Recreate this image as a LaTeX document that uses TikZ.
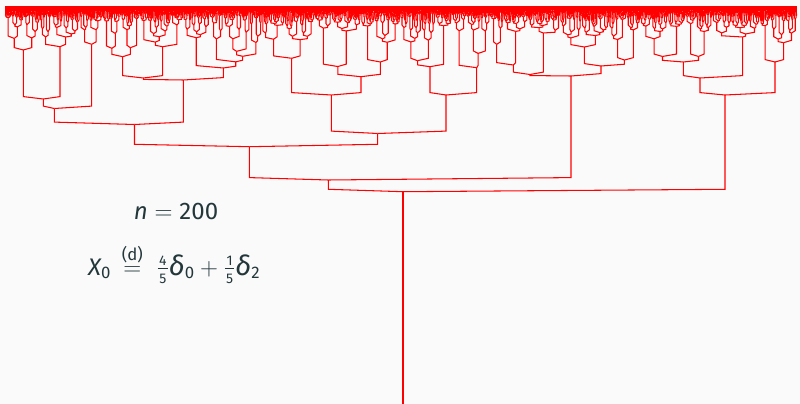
\documentclass[tikz,border=0pt]{standalone}
\usepackage{amsmath}
\usepackage{graphicx}
\usepackage{fontspec}
\setmainfont{Fira Sans}
\definecolor{bg}{HTML}{FAFAFA}
\definecolor{ink}{HTML}{23373B}
\tikzset{tr/.style={draw=red, line width=1.05pt}}
% top line where every leaf ends, and the height/width scaling of subtrees
\newcommand\ytop{6.5}
\newcommand\kk{7.4}
% edge from a parent (#1,#2) to a child (#3,#4): a shallow bar, then a vertical
\newcommand\gedge[4]{%
  \pgfmathsetmacro\gdel{min(2.4,0.3*(#2-#4))}%
  \draw[tr] (#1,#2) -- (#3,#2-\gdel) -- (#3,#4);}
% random binary subtree rooted at (#1,#2), leaves spread over [#3,#4]
\newcommand\gtree[4]{%
  \begingroup
  \pgfmathsetmacro\gw{#4-#3}%
  \pgfmathsetmacro\gd{#2-\ytop}%
  \ifdim\gw pt<1.1pt
    \draw[tr] (#1,#2) -- (#1,\ytop);%
  \else
    \ifdim\gd pt<1.2pt
      \draw[tr] (#1,#2) -- (#1,\ytop);%
    \else
      \pgfmathsetmacro\gs{#3+\gw*(0.25+0.5*rnd)}%
      \pgfmathsetmacro\gxa{(#3+\gs)/2}%
      \pgfmathsetmacro\gxb{(\gs+#4)/2}%
      \pgfmathsetmacro\gya{\ytop+min(0.9*\gd,\kk*sqrt(\gs-#3)*(0.6+0.8*rnd))}%
      \pgfmathsetmacro\gyb{\ytop+min(0.9*\gd,\kk*sqrt(#4-\gs)*(0.6+0.8*rnd))}%
      \gedge{#1}{#2}{\gxa}{\gya}%
      \gedge{#1}{#2}{\gxb}{\gyb}%
      \edef\gnext{\noexpand\gtree{\gxa}{\gya}{#3}{\gs}\noexpand\gtree{\gxb}{\gyb}{\gs}{#4}}%
      \gnext
    \fi
  \fi
  \endgroup}
\newcommand\rmtx[1]{\text{#1}}
\newcommand\ittx[1]{\text{\itshape #1}}
\newcommand\dlt{\text{\scalebox{1.15}{\itshape δ}}}
% small stacked fraction with Fira digits
\newcommand\fdig[1]{\hbox{\kern1.2pt\fontsize{14}{14}\selectfont #1\kern1.2pt}}
\newcommand\smallfrac[2]{\genfrac{}{}{0.6pt}{1}{\fdig{#1}}{\fdig{#2}}}
\begin{document}
\begin{tikzpicture}[x=1pt,y=-1pt]
\pgfmathsetseed{4242}
\fill[bg] (0,0) rectangle (800,404);
\path[use as bounding box] (0,0) rectangle (800,404);

% stem of the root
\draw[tr] (403,404) -- (403,191.7);
\gedge{403}{191.7}{328.3}{180}
\gedge{403}{191.7}{725}{95}
% left part
\gedge{328.3}{180}{249.3}{146.7}
\gedge{328.3}{180}{571}{76}
\gedge{249.3}{146.7}{134.5}{124.5}
\gedge{249.3}{146.7}{377.7}{133.5}
\gedge{134.5}{124.5}{54.3}{108.5}
\gedge{134.5}{124.5}{183.3}{80}
\gedge{54.3}{108.5}{43.3}{99}
\gedge{54.3}{108.5}{91.7}{44.3}   \gtree{91.7}{44.3}{80}{103}
\gedge{43.3}{99}{23.3}{50}        \gtree{23.3}{50}{5}{40}
\gedge{43.3}{99}{60}{46.7}        \gtree{60}{46.7}{40}{80}
\gedge{183.3}{80}{143.3}{78}
\gedge{183.3}{80}{223.3}{68}      \gtree{223.3}{68}{183}{262}
\gedge{143.3}{78}{122.7}{56.7}    \gtree{122.7}{56.7}{103}{140}
\gedge{143.3}{78}{162.7}{46.7}    \gtree{162.7}{46.7}{140}{183}
\gedge{377.7}{133.5}{331.3}{95}
\gedge{377.7}{133.5}{446}{95}
\gedge{331.3}{95}{291.7}{58.3}    \gtree{291.7}{58.3}{262}{315}
\gedge{331.3}{95}{361}{76.7}      \gtree{361}{76.7}{315}{400}
\gedge{446}{95}{430}{66.7}        \gtree{430}{66.7}{400}{452}
\gedge{446}{95}{476.7}{67.7}      \gtree{476.7}{67.7}{452}{490}
\gedge{571}{76}{530}{74.5}
\gedge{571}{76}{601}{66}          \gtree{601}{66}{560}{640}
\gedge{530}{74.5}{513.3}{65}      \gtree{513.3}{65}{490}{528}
\gedge{530}{74.5}{543.3}{33}      \gtree{543.3}{33}{528}{560}
% right part
\gedge{725}{95}{700}{78}
\gedge{725}{95}{775}{62}          \gtree{775}{62}{760}{797}
\gedge{700}{78}{683.3}{62}        \gtree{683.3}{62}{640}{712}
\gedge{700}{78}{742.7}{37}        \gtree{742.7}{37}{712}{760}

% labels
\node[anchor=base, inner sep=0, text=ink, font=\fontsize{24}{28}\selectfont]
  (size) at (176,219.5) {$\ittx{n} = \rmtx{200}$};
\node[anchor=base west, inner sep=0, text=ink, font=\fontsize{24}{28}\selectfont]
  (law) at (88,275) {$\ittx{X}_{\rmtx{0}}\, \overset{\rmtx{(d)}}{=}\;
   \smallfrac{4}{5}\dlt_{\rmtx{0}} +
   \smallfrac{1}{5}\dlt_{\rmtx{2}}$};
\end{tikzpicture}
\end{document}
